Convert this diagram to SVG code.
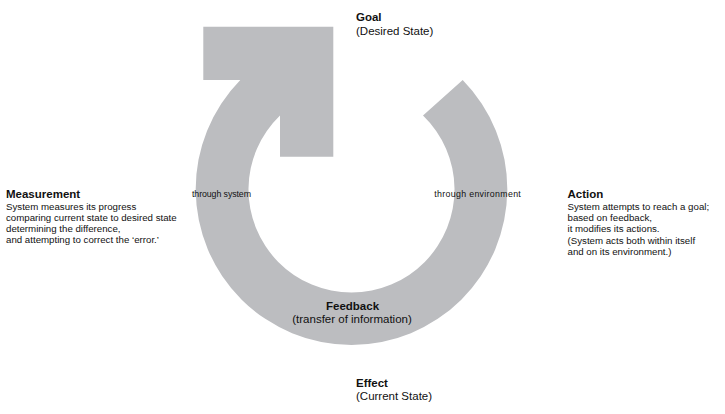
<svg xmlns="http://www.w3.org/2000/svg" width="725" height="414" viewBox="0 0 725 414">
<style>
.t{font-family:"Liberation Sans",Arial,sans-serif;fill:#111}
.h{font-size:11.5px;font-weight:bold}
.s{font-size:11.5px}
.b{font-size:9.7px}
.l{font-size:8.8px}
.c{text-anchor:middle}
</style>
<rect width="725" height="414" fill="#fff"/>
<g id="loop">
<path d="M462.7 80 A155.8 155.8 0 1 1 240.3 80 L203.3 80 L203.3 26.7 L333.3 26.7 L333.3 156.7 L280 156.7 L280 115.4 A103 103 0 1 0 423 115.4 Z" fill="#bcbdc0"/>
</g>
<g id="connectors"></g>
<g id="goal">
<text class="t h" x="356" y="21">Goal</text>
<text class="t s" x="356" y="35">(Desired State)</text>
</g>
<g id="measurement">
<text class="t h" x="6" y="198">Measurement</text>
<text class="t b" x="6" y="209.5">System measures its progress</text>
<text class="t b" x="6" y="220.8">comparing current state to desired state</text>
<text class="t b" x="6" y="232.1">determining the difference,</text>
<text class="t b" x="6" y="243.4">and attempting to correct the ‘error.’</text>
</g>
<g id="action">
<text class="t h" x="567.5" y="198">Action</text>
<text class="t b" x="567.5" y="209.8">System attempts to reach a goal;</text>
<text class="t b" x="567.5" y="221.1">based on feedback,</text>
<text class="t b" x="567.5" y="232.4">it modifies its actions.</text>
<text class="t b" x="567.5" y="243.7">(System acts both within itself</text>
<text class="t b" x="567.5" y="255">and on its environment.)</text>
</g>
<g id="through-system">
<text class="t l" x="192" y="197" textLength="59" lengthAdjust="spacing">through system</text>
</g>
<g id="through-environment">
<text class="t l" x="434.3" y="197" textLength="86.5" lengthAdjust="spacing">through environment</text>
</g>
<g id="feedback">
<text class="t h c" x="352.5" y="310">Feedback</text>
<text class="t s c" x="352" y="322.7">(transfer of information)</text>
</g>
<g id="effect">
<text class="t h" x="356" y="386.7">Effect</text>
<text class="t s" x="356" y="399.5">(Current State)</text>
</g>
</svg>
